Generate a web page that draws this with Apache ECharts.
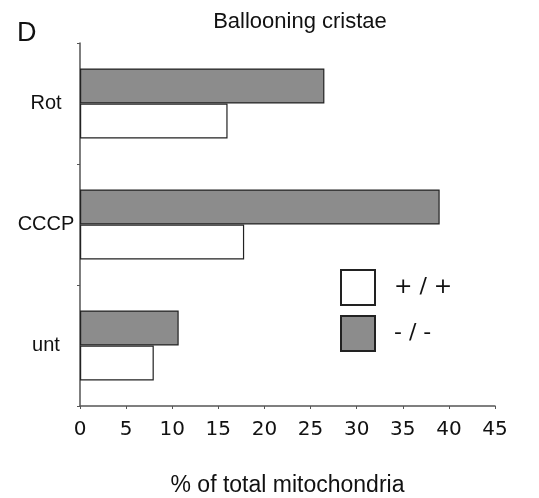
<!DOCTYPE html>
<html>
<head>
<meta charset="utf-8">
<script src="https://cdn.jsdelivr.net/npm/echarts@6/dist/echarts.min.js"></script>
<style>
  html, body { margin: 0; padding: 0; background: #fff; }
  #chart { width: 539px; height: 498px; }
</style>
</head>
<body>
<div id="chart"></div>
<script>
// data
const categories = ['unt', 'CCCP', 'Rot'];
const wildType = [8.0, 17.8, 16.0];    // +/+
const knockout = [10.7, 39.0, 26.5];   // -/-
const xTicks = [0, 5, 10, 15, 20, 25, 30, 35, 40, 45];

const chart = echarts.init(document.getElementById('chart'));

const barBorder = { borderColor: '#222', borderWidth: 1.2 };

chart.setOption({
  animation: false,
  backgroundColor: '#fff',
  title: [
    {
      text: 'Ballooning cristae',
      left: 295,
      top: 6,
      textAlign: 'center',
      textStyle: { fontFamily: 'Liberation Sans', fontSize: 22, fontWeight: 'normal', color: '#111' }
    },
    {
      text: 'D',
      left: 12,
      top: 15,
      textStyle: { fontFamily: 'Liberation Sans', fontSize: 27, fontWeight: 'normal', color: '#111' }
    }
  ],
  legend: {
    orient: 'vertical',
    left: 335,
    top: 264,
    icon: 'rect',
    itemWidth: 34,
    itemHeight: 35,
    itemGap: 9,
    data: ['+ / +', '- / -'],
    textStyle: { fontFamily: 'DejaVu Sans', fontSize: 22, color: '#111', padding: [0, 0, 0, 14] }
  },
  grid: { left: 80, right: 44, top: 43, bottom: 92, containLabel: false, outerBoundsMode: 'none' },
  xAxis: {
    type: 'value',
    min: 0,
    max: 45,
    interval: 5,
    name: '% of total mitochondria',
    nameLocation: 'middle',
    nameGap: 68,
    nameTextStyle: { fontFamily: 'Liberation Sans', fontSize: 23, color: '#111' },
    axisLine: { show: true, lineStyle: { color: '#555', width: 1.5 } },
    axisTick: { show: true, length: 3, lineStyle: { color: '#555' } },
    splitLine: { show: false },
    axisLabel: {
      margin: 14,
      fontFamily: 'DejaVu Sans',
      fontSize: 20,
      color: '#111',
      formatter: v => (xTicks.includes(v) ? String(v) : '')
    }
  },
  yAxis: {
    type: 'category',
    data: categories,
    axisLine: { show: true, lineStyle: { color: '#555', width: 1.5 } },
    axisTick: { show: true, length: 3, lineStyle: { color: '#555' } },
    axisLabel: {
      margin: 34,
      align: 'center',
      padding: [5, 0, 0, 0],
      fontFamily: 'Liberation Sans',
      fontSize: 20,
      color: '#111'
    }
  },
  series: [
    {
      name: '- / -',
      type: 'bar',
      data: knockout,
      barWidth: 35,
      barGap: '0%',
      itemStyle: Object.assign({ color: '#8c8c8c' }, barBorder)
    },
    {
      name: '+ / +',
      type: 'bar',
      data: wildType,
      barWidth: 35,
      barGap: '0%',
      itemStyle: Object.assign({ color: '#ffffff' }, barBorder)
    }
  ]
});
</script>
</body>
</html>
